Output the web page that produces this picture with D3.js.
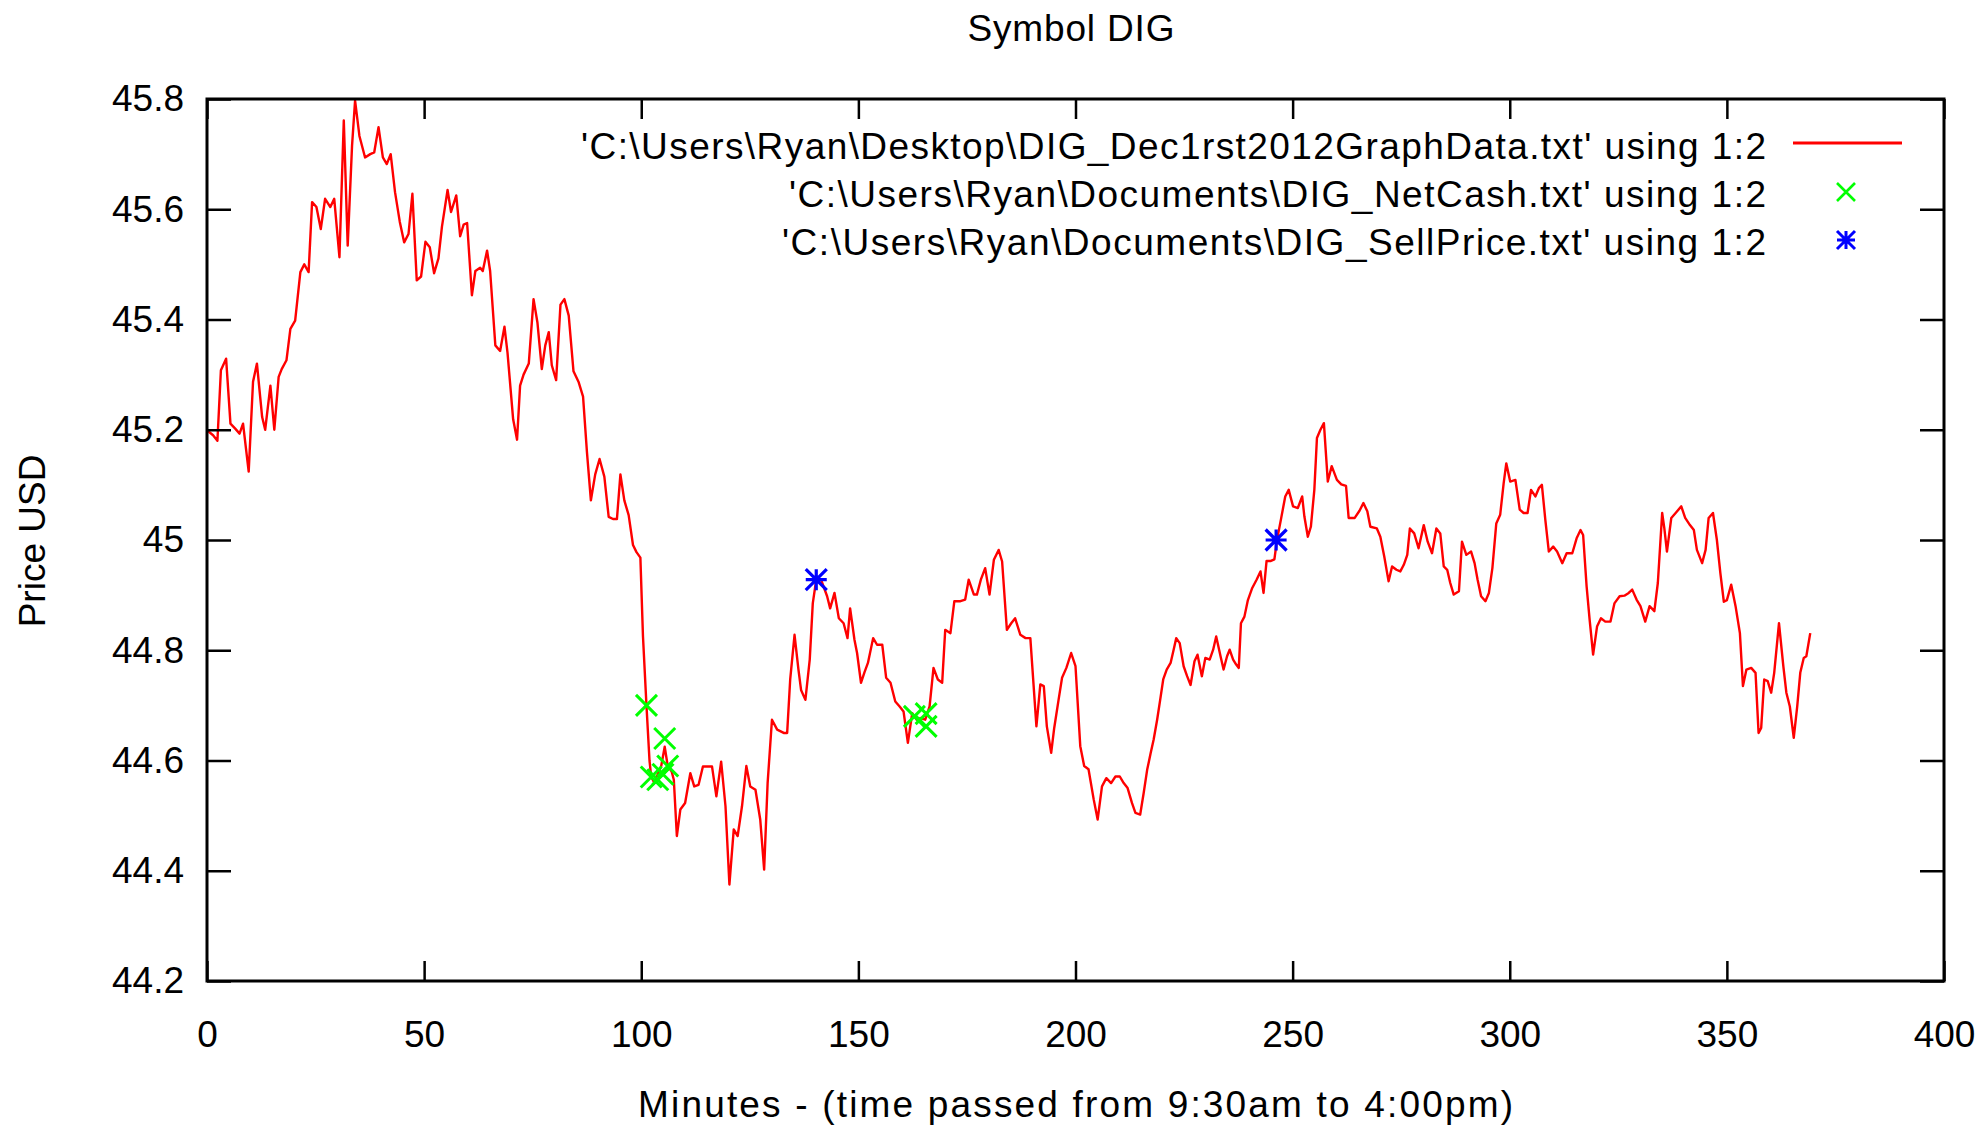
<!DOCTYPE html>
<html><head><meta charset="utf-8">
<script src="https://cdn.jsdelivr.net/npm/d3@7"></script>
<style>
body{margin:0;background:#fff}
svg{display:block}
text{font-family:"Liberation Sans",Arial,sans-serif;fill:#000}
</style>
</head><body><svg id="c" width="1988" height="1127"></svg>
<script>
// ---- data ----
const priceMinutes = [0,1.4,2.4,3.2,4.4,5.4,6.5,7.5,8.3,9.6,10.6,11.5,12.7,13.4,14.6,15.5,16.5,17.2,18.3,19.2,20.3,21.5,22.4,23.4,24.2,25.2,26.2,27.2,28.4,29.3,30.5,31.5,32.4,33.4,34.1,35.1,36.4,37.6,38.5,39.5,40.5,41.4,42.3,43.3,44.4,45.4,46.4,47.3,48.3,49.3,
50.3,51.3,52.3,53.3,54.1,55.4,56.2,57.4,58.3,59.1,59.9,61.0,61.8,62.9,63.5,64.5,65.2,66.4,67.5,68.5,69.2,70.5,71.4,72.1,72.9,74.1,75.2,76.1,77.1,77.9,78.7,79.4,80.4,81.4,82.3,83.3,84.4,85.6,86.6,87.5,88.4,89.4,90.4,91.5,92.5,93.5,94.4,95.2,96.1,97.1,98.1,98.9,99.8,
100.4,101.2,101.9,102.3,103.0,103.8,104.6,105.4,106.1,107.0,107.5,108.2,109.0,110.1,111.3,112.2,113.2,114.2,115.2,116.3,117.3,118.4,119.4,120.3,121.3,122.2,123.2,124.2,125.1,126.3,127.4,128.3,129.1,130.1,131.3,132.8,133.6,134.3,135.3,136.2,136.8,137.8,138.8,139.5,140.3,141.4,142.8,143.5,144.5,145.5,146.6,147.5,148.1,149.1,149.7,
150.6,151.4,152.2,153.4,154.3,155.5,156.4,157.4,158.5,159.5,160.4,161.4,162.4,163.4,164.3,165.4,166.4,167.3,168.3,169.3,170.0,171.2,172.1,173.5,174.6,175.4,176.6,177.3,178.2,179.2,180.2,181.2,182.3,183.1,184.2,185.2,186.1,187.3,188.5,189.6,191.0,191.9,192.7,193.4,194.4,195.1,196.1,196.9,197.9,199.0,
200.0,201.1,202.0,203.0,204.2,205.1,206.1,207.1,208.2,209.2,210.2,211.1,212.0,213.0,213.8,214.9,215.7,216.5,217.3,218.0,218.8,219.5,220.2,221.0,221.9,222.6,223.2,224.0,224.9,225.7,226.5,227.4,228.1,229.1,229.9,230.9,231.7,232.4,233.4,234.1,234.9,235.5,236.3,237.0,237.6,238.1,238.9,239.7,240.7,241.7,242.6,243.3,244.0,245.0,245.8,246.4,247.3,248.3,249.1,
250.1,251.2,252.2,252.7,253.5,254.2,255.0,255.6,256.4,257.2,258.1,259.0,260.2,261.2,262.3,262.9,264.3,265.4,266.3,267.2,267.9,269.4,270.2,271.1,272.1,272.9,273.9,274.8,275.6,276.4,277.0,278.0,279.0,280.2,281.1,282.1,283.1,284.0,284.8,285.6,286.3,287.1,288.3,289.0,290.0,291.1,291.9,292.6,293.4,294.4,295.2,296.0,296.9,297.8,298.6,299.2,
300.1,301.3,302.3,303.2,304.1,304.9,305.9,306.7,307.4,308.2,309.0,310.0,310.9,312.1,313.1,314.4,315.4,316.3,316.9,317.7,318.4,319.2,320.1,321.0,322.0,323.2,324.1,325.3,326.4,327.4,328.2,329.2,330.1,331.2,332.2,333.3,334.1,335.1,335.6,336.2,337.2,338.2,339.5,340.4,341.5,342.4,343.1,344.3,345.1,345.8,346.8,347.7,348.5,349.3,
350.0,351.0,352.0,353.0,353.7,354.5,355.6,356.6,357.3,357.9,358.6,359.4,360.2,360.9,362.0,363.0,363.7,364.5,365.4,366.2,366.9,367.7,368.3,369.2];
const priceValues = [45.199,45.19,45.18,45.308,45.329,45.211,45.202,45.193,45.211,45.124,45.287,45.32,45.223,45.2,45.28,45.2,45.296,45.31,45.326,45.383,45.398,45.486,45.5,45.486,45.613,45.604,45.564,45.619,45.604,45.619,45.513,45.761,45.534,45.715,45.797,45.733,45.694,45.70,45.703,45.749,45.694,45.682,45.70,45.631,45.577,45.54,45.555,45.628,45.471,45.478,
45.541,45.531,45.484,45.511,45.568,45.635,45.595,45.625,45.551,45.572,45.575,45.444,45.488,45.494,45.488,45.525,45.488,45.353,45.343,45.387,45.34,45.219,45.182,45.28,45.3,45.32,45.437,45.394,45.31,45.353,45.377,45.317,45.29,45.427,45.437,45.407,45.306,45.286,45.26,45.159,45.072,45.119,45.147,45.115,45.042,45.038,45.038,45.119,45.072,45.045,44.991,44.978,44.968,
44.825,44.70,44.60,44.57,44.56,44.575,44.59,44.625,44.59,44.58,44.565,44.463,44.511,44.523,44.577,44.553,44.556,44.589,44.589,44.589,44.535,44.598,44.517,44.375,44.475,44.463,44.517,44.59,44.553,44.547,44.493,44.402,44.559,44.674,44.656,44.65,44.65,44.747,44.828,44.765,44.728,44.71,44.783,44.885,44.928,44.928,44.898,44.876,44.904,44.858,44.849,44.822,44.876,44.819,44.795,
44.741,44.76,44.777,44.822,44.81,44.81,44.75,44.741,44.707,44.698,44.689,44.632,44.686,44.674,44.677,44.674,44.698,44.768,44.747,44.741,44.837,44.831,44.889,44.889,44.892,44.928,44.901,44.901,44.928,44.949,44.901,44.964,44.982,44.961,44.837,44.849,44.858,44.828,44.822,44.822,44.662,44.738,44.735,44.662,44.614,44.659,44.71,44.75,44.768,44.795,
44.771,44.626,44.59,44.584,44.529,44.493,44.553,44.568,44.559,44.571,44.571,44.559,44.55,44.523,44.505,44.502,44.541,44.583,44.613,44.638,44.674,44.71,44.747,44.765,44.777,44.801,44.822,44.813,44.771,44.753,44.737,44.78,44.792,44.753,44.786,44.783,44.801,44.825,44.789,44.765,44.789,44.801,44.783,44.774,44.768,44.849,44.861,44.891,44.913,44.928,44.943,44.904,44.962,44.962,44.965,45.0,45.037,45.079,45.091,
45.061,45.058,45.079,45.043,45.006,45.024,45.091,45.185,45.2,45.212,45.106,45.134,45.109,45.101,45.098,45.04,45.04,45.053,45.067,45.052,45.024,45.021,45.006,44.97,44.925,44.952,44.946,44.943,44.955,44.973,45.021,45.012,44.985,45.027,44.997,44.976,45.021,45.012,44.952,44.946,44.922,44.901,44.907,44.997,44.973,44.979,44.958,44.928,44.898,44.889,44.904,44.949,45.03,45.046,45.103,45.139,
45.106,45.109,45.055,45.049,45.049,45.091,45.079,45.094,45.1,45.036,44.979,44.988,44.979,44.958,44.976,44.976,45.003,45.018,45.009,44.916,44.855,44.792,44.843,44.858,44.852,44.852,44.885,44.898,44.899,44.904,44.91,44.892,44.88,44.852,44.88,44.871,44.922,45.049,45.021,44.979,45.04,45.049,45.061,45.04,45.027,45.018,44.982,44.958,44.982,45.04,45.049,45.0,44.94,44.888,
44.891,44.919,44.88,44.831,44.735,44.765,44.768,44.759,44.65,44.659,44.747,44.744,44.723,44.759,44.849,44.771,44.723,44.698,44.641,44.698,44.759,44.786,44.789,44.831];

const netCashMinutes = [101.2,105.4,106.1,102.3,103.8,105.0,162.9,165.6,165.6];
const netCashValues  = [44.70,44.64,44.59,44.57,44.565,44.575,44.68,44.685,44.662];

const sellMinutes = [140.3,246.2];
const sellValues  = [44.928,45.0];

const xTickValues = [0,50,100,150,200,250,300,350,400];
const yTickValues = [44.2,44.4,44.6,44.8,45.0,45.2,45.4,45.6,45.8];
const yTickLabels = ["44.2","44.4","44.6","44.8","45","45.2","45.4","45.6","45.8"];

const titleText = "Symbol DIG";
const xTitle = "Minutes - (time passed from 9:30am to 4:00pm)";
const yTitle = "Price USD";
const legendLabels = [
  "'C:\\Users\\Ryan\\Desktop\\DIG_Dec1rst2012GraphData.txt' using 1:2",
  "'C:\\Users\\Ryan\\Documents\\DIG_NetCash.txt' using 1:2",
  "'C:\\Users\\Ryan\\Documents\\DIG_SellPrice.txt' using 1:2"
];

// ---- layout ----
const m = {left: 207, right: 1944, top: 99, bottom: 981};
const FS = 37;
const svg = d3.select("#c");

const x = d3.scaleLinear().domain([0, 400]).range([m.left, m.right]);
const y = d3.scaleLinear().domain([44.2, 45.8]).range([m.bottom, m.top]);

// price line
const lineData = priceMinutes.map((t, i) => [t, priceValues[i]]);
svg.append("path")
  .datum(lineData)
  .attr("fill", "none")
  .attr("stroke", "#ff0000")
  .attr("stroke-width", 2.4)
  .attr("stroke-linejoin", "round")
  .attr("d", d3.line().x(d => x(d[0])).y(d => y(d[1])));

// marker helpers
function xMark(cx, cy, r) {
  const p = d3.path();
  p.moveTo(cx - r, cy - r); p.lineTo(cx + r, cy + r);
  p.moveTo(cx - r, cy + r); p.lineTo(cx + r, cy - r);
  return p.toString();
}
function starMark(cx, cy, r) {
  const p = d3.path();
  p.moveTo(cx - r, cy - r); p.lineTo(cx + r, cy + r);
  p.moveTo(cx - r, cy + r); p.lineTo(cx + r, cy - r);
  p.moveTo(cx - r, cy); p.lineTo(cx + r, cy);
  p.moveTo(cx, cy - r); p.lineTo(cx, cy + r);
  return p.toString();
}

svg.append("g").selectAll("path")
  .data(netCashMinutes.map((t, i) => [t, netCashValues[i]]))
  .join("path")
  .attr("d", d => xMark(x(d[0]), y(d[1]), 10.5))
  .attr("stroke", "#00ff00").attr("stroke-width", 3).attr("fill", "none");

svg.append("g").selectAll("path")
  .data(sellMinutes.map((t, i) => [t, sellValues[i]]))
  .join("path")
  .attr("d", d => starMark(x(d[0]), y(d[1]), 10.5))
  .attr("stroke", "#0000ff").attr("stroke-width", 3.2).attr("fill", "none");

// axes
function styleAxis(g) {
  g.select(".domain").remove();
  g.selectAll(".tick line").attr("stroke", "#000").attr("stroke-width", 2.5);
  g.selectAll("text").attr("font-size", FS).attr("fill", "#000")
    .attr("font-family", "'Liberation Sans', Arial, sans-serif");
}
svg.append("g").attr("transform", `translate(0,${m.bottom})`)
  .call(d3.axisBottom(x).tickValues(xTickValues).tickSize(-20).tickPadding(40).tickFormat(d3.format("d")))
  .call(styleAxis);
svg.append("g").attr("transform", `translate(0,${m.top})`)
  .call(d3.axisTop(x).tickValues(xTickValues).tickSize(-20).tickFormat(""))
  .call(styleAxis);
svg.append("g").attr("transform", `translate(${m.left},0)`)
  .call(d3.axisLeft(y).tickValues(yTickValues).tickSize(-24).tickPadding(23)
        .tickFormat((d, i) => yTickLabels[i]))
  .call(styleAxis);
svg.append("g").attr("transform", `translate(${m.right},0)`)
  .call(d3.axisRight(y).tickValues(yTickValues).tickSize(-24).tickFormat(""))
  .call(styleAxis);

// frame
svg.append("rect")
  .attr("x", m.left).attr("y", m.top)
  .attr("width", m.right - m.left).attr("height", m.bottom - m.top)
  .attr("fill", "none").attr("stroke", "#000").attr("stroke-width", 3);

// titles
svg.append("text").attr("x", 1071).attr("y", 28).attr("dy", "0.35em")
  .attr("text-anchor", "middle").attr("font-size", FS)
  .attr("textLength", 207).attr("lengthAdjust", "spacing").text(titleText);
svg.append("text").attr("x", 1075.5).attr("y", 1104).attr("dy", "0.35em")
  .attr("text-anchor", "middle").attr("font-size", FS)
  .attr("textLength", 875).attr("lengthAdjust", "spacing").text(xTitle);
svg.append("text").attr("transform", "translate(32,541) rotate(-90)").attr("dy", "0.35em")
  .attr("text-anchor", "middle").attr("font-size", FS).text(yTitle);

// legend
const legTextRows = [146.5, 194.5, 242.5];
const legSymRows = [143, 192, 240];
const legWidths = [1185, 977, 984];
const lg = svg.append("g");
legendLabels.forEach((lab, i) => {
  lg.append("text").attr("x", 1766).attr("y", legTextRows[i]).attr("dy", "0.35em")
    .attr("text-anchor", "end").attr("font-size", FS)
    .attr("textLength", legWidths[i]).attr("lengthAdjust", "spacing").text(lab);
});
lg.append("line").attr("x1", 1793).attr("x2", 1902).attr("y1", legSymRows[0]).attr("y2", legSymRows[0])
  .attr("stroke", "#ff0000").attr("stroke-width", 3);
lg.append("path").attr("d", xMark(1846, legSymRows[1], 9))
  .attr("stroke", "#00ff00").attr("stroke-width", 2.6).attr("fill", "none");
lg.append("path").attr("d", starMark(1846, legSymRows[2], 9))
  .attr("stroke", "#0000ff").attr("stroke-width", 3).attr("fill", "none");
</script>
</body></html>
